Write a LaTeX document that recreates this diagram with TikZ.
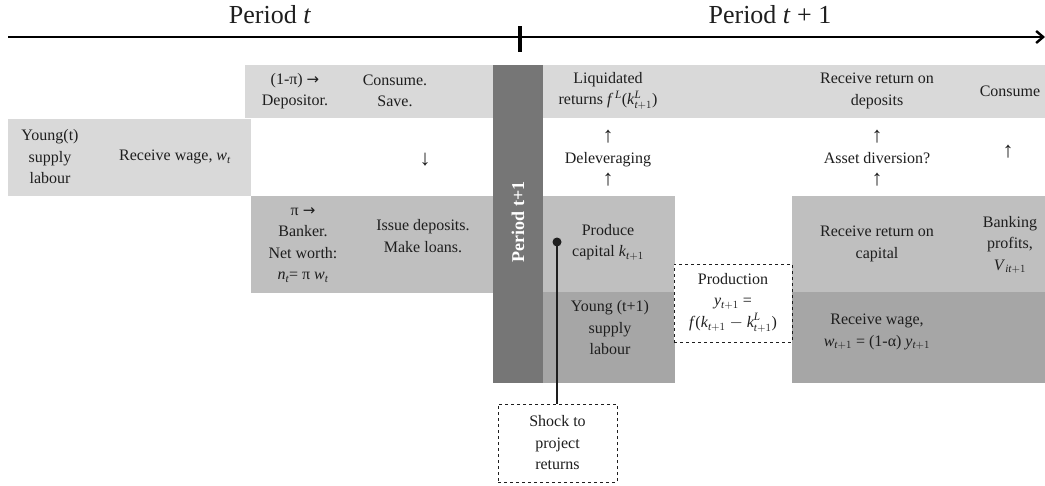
\documentclass[tikz,border=0pt]{standalone}
\usepackage{amsmath}
\usepackage{fontspec}
\setmainfont{Liberation Serif}
\newfontfamily\arrowfont{DejaVu Sans}
\usetikzlibrary{arrows.meta}
\definecolor{lightg}{HTML}{D9D9D9}
\definecolor{midg}{HTML}{BFBFBF}
\definecolor{darkg}{HTML}{A6A6A6}
\definecolor{barg}{HTML}{767676}
\definecolor{ink}{HTML}{1E1E1E}
\newcommand\iv[1]{\textit{#1}}
\newcommand\rar{{\arrowfont\fontsize{15}{15}\selectfont →}}
\newcommand\uar{{\fontsize{22}{15}\selectfont ↑}}
\newcommand\dar{{\fontsize{22}{15}\selectfont ↓}}
\begin{document}
\begin{tikzpicture}[x=1pt,y=-1pt,
  txt/.style={align=center,text=ink,font=\fontsize{16}{21.5}\selectfont,inner sep=0pt},
  big/.style={text=ink,font=\fontsize{26}{30}\selectfont,inner sep=0pt},
  dashbox/.style={draw=ink,dashed,line width=0.8pt,fill=white},
  blk/.style={draw=none,inner sep=0pt,anchor=north west}]
\useasboundingbox (0,0) rectangle (1045,485);
% timeline
\coordinate (tl0) at (8,37);
\coordinate (tl1) at (1045,37);
\draw[line width=2.4pt,-{Straight Barb[length=7pt,width=12pt]}] (tl0) -- (tl1);
\coordinate (tk0) at (520,26);
\coordinate (tk1) at (520,52);
\draw[line width=4.5pt] (tk0) -- (tk1);
\node[big] (pt) at (270,15) {Period \iv{t}};
\node[big] (pt1) at (770,15) {Period \iv{t} + 1};
% blocks
\fill[lightg] (245,65) rectangle (493,118);
\fill[lightg] (543,65) rectangle (1045,118);
\fill[lightg] (8,119) rectangle (251,196);
\fill[midg] (251,196) rectangle (494,293);
\fill[midg] (543,196) rectangle (675,292);
\fill[darkg] (543,292) rectangle (675,383);
\fill[midg] (792,196) rectangle (1045,292);
\fill[darkg] (792,292) rectangle (1045,383);
\fill[barg] (493,65) rectangle (543,383);
\node[rotate=90,text=white,font=\fontsize{18}{20}\selectfont\bfseries,inner sep=0pt] (bar) at (518,222) {Period t+1};
% dashed production
\node[dashbox,minimum width=118pt,minimum height=78pt,inner sep=0pt] (prodbox) at (733,303) {};
\node[txt] (prod) at (733,303) {Production\\\iv{y}$_{\textit{t}+1}$ =\\\iv{f}(\iv{k}$_{\textit{t}+1}-\textit{k}^{\textit{L}}_{\textit{t}+1}$)};
% shock
\node[dashbox,minimum width=119pt,minimum height=78pt,inner sep=0pt] (shockbox) at (557.5,443) {};
\node[txt] (shock) at (557.5,443) {Shock to\\project\\returns};
\coordinate (dot) at (557,242);
\fill[ink] (dot) circle (4.5pt);
\draw[ink,line width=2.4pt] (dot) -- (shockbox.north -| dot);
% texts
\node[txt] (dep) at (295,91) {(1-π) \rar\\Depositor.};
\node[txt] (cons) at (395,91) {Consume.\\Save.};
\node[txt] (yt) at (50,157) {Young(t)\\supply\\labour};
\node[txt] (rw) at (175,157) {Receive wage, \iv{w}$_{\textit{t}}$};
\node[txt] (da) at (425,160) {\dar};
\node[txt] (bank) at (303,245) {π \rar\\Banker.\\Net worth:\\\iv{n}$_{\textit{t}}$= π \iv{w}$_{\textit{t}}$};
\node[txt] (issue) at (423,236) {Issue deposits.\\Make loans.};
\node[txt] (liq) at (608,91) {Liquidated\\returns \iv{f}$^{\,\textit{L}}$(\iv{k}$^{\textit{L}}_{\textit{t}+1}$)};
\node[txt] (delev) at (608,158) {\uar\\Deleveraging\\\uar};
\node[txt] (pc) at (608,242) {Produce\\capital \iv{k}$_{\textit{t}+1}$};
\node[txt] (yt1) at (610,328) {Young (t+1)\\supply\\labour};
\node[txt] (rrd) at (877,91) {Receive return on\\deposits};
\node[txt] (cons2) at (1010,91) {Consume};
\node[txt] (ad) at (877,158) {\uar\\Asset diversion?\\\uar};
\node[txt] (ua) at (1008,152) {\uar};
\node[txt] (rrc) at (877,244) {Receive return on\\capital};
\node[txt] (bp) at (1010,245) {Banking\\profits,\\\iv{V}$_{\textit{it}+1}$};
\node[txt] (rw2) at (877,332) {Receive wage,\\\iv{w}$_{\textit{t}+1}$ = (1-α) \iv{y}$_{\textit{t}+1}$};
\end{tikzpicture}
\end{document}
